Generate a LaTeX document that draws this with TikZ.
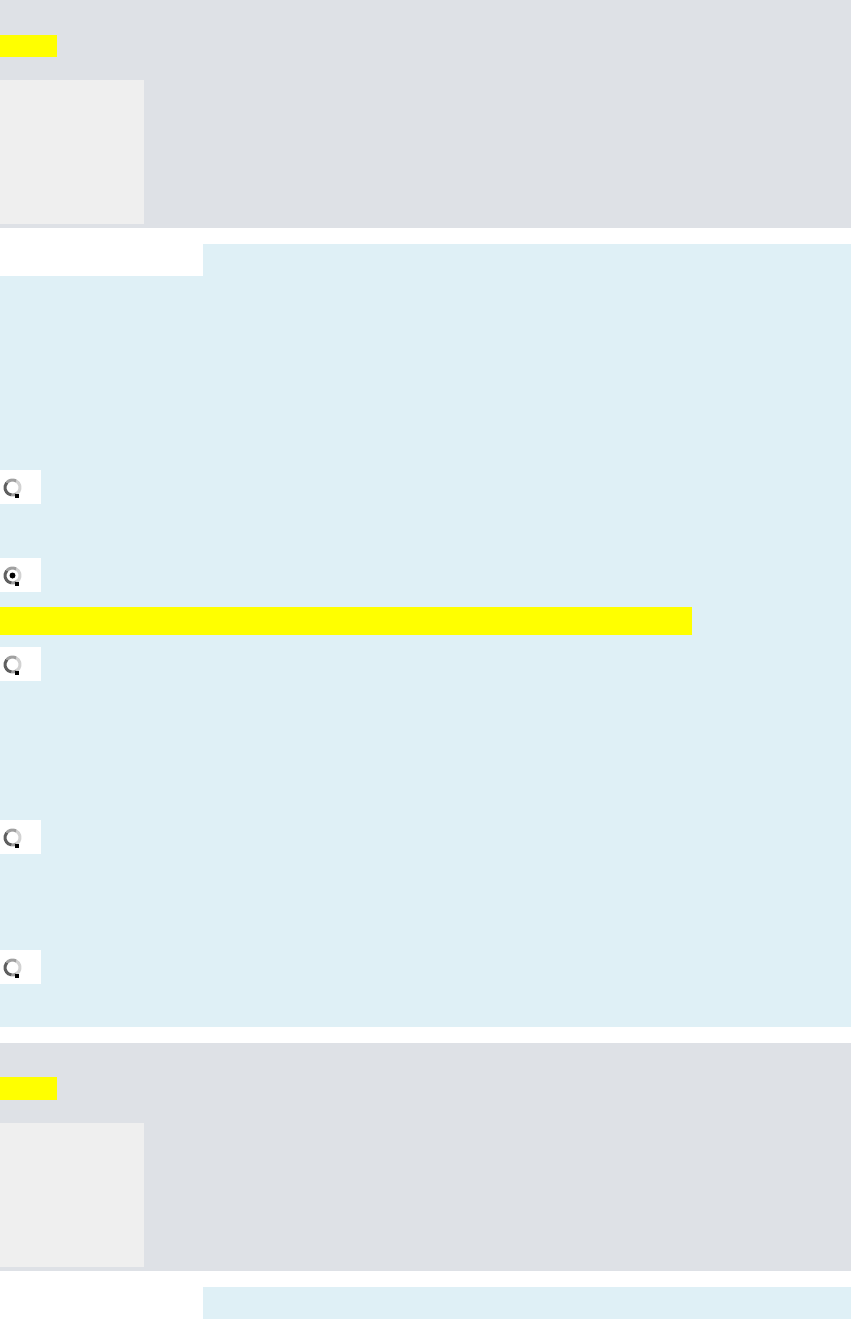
\documentclass[tikz,border=0pt]{standalone}
\definecolor{panelgray}{RGB}{222,225,230}
\definecolor{boxgray}{RGB}{239,239,239}
\definecolor{panelblue}{RGB}{223,240,246}
\definecolor{hilite}{RGB}{255,255,0}
\definecolor{ringdark}{RGB}{95,95,95}
\definecolor{ringmid}{RGB}{160,160,160}
\definecolor{ringlight}{RGB}{210,210,210}
\tikzset{
  radiobox/.style={fill=white, draw=none},
  ringtop/.style={draw=ringdark, line width=3pt},
  ringmidstyle/.style={draw=ringmid, line width=3pt},
  ringbot/.style={draw=ringlight, line width=3pt},
}
\newcommand{\radioat}[2]{%
  \fill[radiobox] (0,#1) rectangle (41,#1+34);
  \draw[ringbot] (12.5,#1+17.5) ++(-60:7.5) arc (-60:60:7.5);
  \draw[ringmidstyle] (12.5,#1+17.5) ++(60:7.5) arc (60:100:7.5);
  \draw[ringmidstyle] (12.5,#1+17.5) ++(220:7.5) arc (220:300:7.5);
  \draw[ringtop] (12.5,#1+17.5) ++(100:7.5) arc (100:220:7.5);
  \fill[black] (15,#1+24) rectangle (18.5,#1+28);
  \ifx#2y\fill[black] (12.5,#1+17.5) circle (3);\fi
}
\begin{document}
\begin{tikzpicture}[x=1pt,y=-1pt]
\useasboundingbox (0,0) rectangle (852,1319);
\fill[white] (0,0) rectangle (852,1319);
% top panel
\fill[panelgray] (0,0) rectangle (851,228);
\fill[hilite] (0,35) rectangle (57,57);
\fill[boxgray] (0,80) rectangle (144,224);
% blue question panel
\fill[panelblue] (203,244) rectangle (851,276);
\fill[panelblue] (0,276) rectangle (851,1027);
\fill[hilite] (0,607) rectangle (691.5,635);
\radioat{470}{n}
\radioat{558}{y}
\radioat{647}{n}
\radioat{820}{n}
\radioat{950}{n}
% bottom panel
\fill[panelgray] (0,1043) rectangle (851,1271);
\fill[hilite] (0,1077) rectangle (57,1100);
\fill[boxgray] (0,1123) rectangle (144,1267);
\fill[panelblue] (203,1287) rectangle (851,1319);
\end{tikzpicture}
\end{document}
